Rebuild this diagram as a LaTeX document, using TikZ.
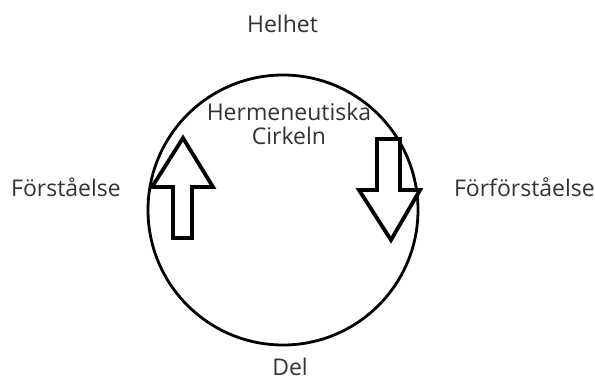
\documentclass[tikz,border=0pt]{standalone}
\usepackage{fontspec}
\setmainfont{Open Sans}
\definecolor{labelgray}{HTML}{333333}
\begin{document}
\begin{tikzpicture}[x=1pt,y=-1pt,
  lbl/.style={font=\fontsize{23}{23.5}\selectfont,text=labelgray,inner sep=0pt},
  blockarrow/.style={draw=black,line width=3.8pt,line join=miter,fill=white}]
\useasboundingbox (0,0) rectangle (595,381);
% the circle
\node[draw=black,line width=2.8pt,circle,minimum size=270pt,inner sep=0pt] (circ) at (283,210) {};
% labels around and inside the circle
\node[lbl,anchor=base] (helhet) at (282.5,32.3) {Helhet};
\node[lbl,anchor=base,text depth=0pt] (del) at (290,375) {Del};
\node[lbl,anchor=base west] (forst) at (11,196.7) {Förståelse};
\node[lbl,anchor=base east] (forforst) at (595,196.7) {Förförståelse};
\node[lbl,align=center,anchor=base] (title) at (289,144.3) {Hermeneutiska\\Cirkeln};
% upward block arrow
\draw[blockarrow] (183,138) -- (213,187) -- (192,187) -- (192,238) -- (173,238) -- (173,187) -- (152,187) -- cycle;
% downward block arrow
\draw[blockarrow] (377,139) -- (400,139) -- (400,190) -- (420,190) -- (391,240) -- (359,190) -- (377,190) -- cycle;
\end{tikzpicture}
\end{document}
